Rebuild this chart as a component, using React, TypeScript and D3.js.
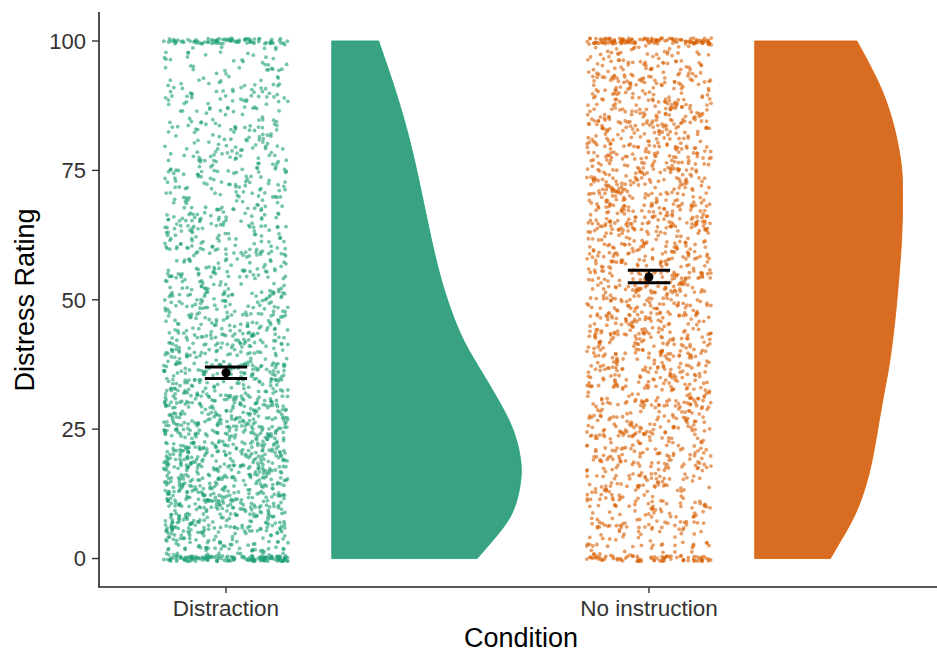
import React from "react";
import * as d3 from "d3";

const width = 937;
const height = 653;

const conditions = ["Distraction", "No instruction"];
const colors = ["#1B9E77", "#D95F02"];
const fills = ["#38a282", "#d96c23"];

// summary: mean and standard-error bounds
const meanRatings = [35.9, 54.4];
const lowerRatings = [34.8, 53.3];
const upperRatings = [37.0, 55.7];

// half-violin outline
const distractionDensityAt = [0, 4.5, 8.7, 15, 19, 25, 31, 37.5, 43, 50, 55.5, 62.5, 72.7, 81, 90, 100];
const distractionDensity = [0.0121, 0.0138, 0.0152, 0.0158, 0.0158, 0.0152, 0.0138, 0.0121, 0.0107, 0.0096, 0.0089, 0.0082, 0.0073, 0.0065, 0.0054, 0.0039];
const noInstructionDensityAt = [0, 4, 8.7, 16.3, 24.5, 31.3, 38.3, 48.6, 62.5, 70.7, 76, 85, 92, 100];
const noInstructionDensity = [0.0063, 0.0073, 0.0085, 0.0096, 0.0102, 0.0107, 0.0113, 0.0118, 0.0123, 0.0123, 0.0123, 0.0115, 0.0104, 0.0085];

// raw points, counted per 5-point bin (0-5 ... 95-100), plus the piles at exactly 0 and 100
const distractionBins = [95, 145, 155, 158, 152, 142, 128, 112, 98, 88, 80, 75, 70, 66, 62, 58, 54, 48, 42, 32];
const distractionEnds = [130, 80];
const noInstructionBins = [48, 70, 78, 84, 88, 91, 94, 97, 100, 102, 104, 106, 107, 107, 107, 106, 102, 96, 88, 62];
const noInstructionEnds = [70, 120];

const yTicks = [0, 25, 50, 75, 100];

const densityAt = [distractionDensityAt, noInstructionDensityAt];
const densityVals = [distractionDensity, noInstructionDensity];
const bins = [distractionBins, noInstructionBins];
const ends = [distractionEnds, noInstructionEnds];

const x = d3.scaleLinear().domain([0.6998, 2.681]).range([99, 937]);
const y = d3.scaleLinear().domain([-5.5, 105.6]).range([587, 12]);
const w = d3.scaleLinear().domain([0, 0.0158]).range([0, 0.449]);

// fixed hash, stands in for geom_jitter's offsets so the picture is stable
const jit = (n: number) => {
  let t = Math.imul(n ^ (n >>> 16), 0x45d9f3b);
  t = Math.imul(t ^ (t >>> 16), 0x45d9f3b);
  t ^= t >>> 16;
  return (t >>> 0) / 4294967296;
};

function jitterPoints(g: number) {
  const pts: { x: number; y: number }[] = [];
  const pos = g + 1;
  let j = g * 100003 + 17;
  bins[g].forEach((n, i) => {
    for (let k = 0; k < n; k++) {
      j++;
      pts.push({ x: pos + (jit(2 * j) * 2 - 1) * 0.147, y: i * 5 + jit(2 * j + 1) * 5 });
    }
  });
  ends[g].forEach((n, e) => {
    for (let k = 0; k < n; k++) {
      j++;
      pts.push({ x: pos + (jit(2 * j) * 2 - 1) * 0.147, y: e * 100 + (jit(2 * j + 1) - 0.5) * 1.1 });
    }
  });
  return pts;
}

export default function App() {
  const font = "'Liberation Sans', Arial, sans-serif";

  return (
    <svg
      width={width}
      height={height}
      style={{ position: "absolute", left: 0, top: 0, display: "block", background: "#fff" }}
    >
      {conditions.map((c, g) => {
        const pos = g + 1;
        const left = pos + 0.25;
        const pairs = densityAt[g].map((r, i) => [r, densityVals[g][i]] as [number, number]);
        const area = d3
          .area<[number, number]>()
          .y((d) => y(d[0]))
          .x0(x(left))
          .x1((d) => x(left + w(d[1])))
          .curve(d3.curveBasis);
        return (
          <g key={c}>
            {jitterPoints(g).map((p, i) => (
              <circle key={i} cx={x(p.x)} cy={y(p.y)} r={1.9} fill={colors[g]} fillOpacity={0.6} />
            ))}
            <path d={area(pairs) ?? ""} fill={fills[g]} stroke={colors[g]} strokeWidth={0.8} />
            <line x1={x(pos)} x2={x(pos)} y1={y(lowerRatings[g])} y2={y(upperRatings[g])} stroke="#000" strokeWidth={2} />
            {[lowerRatings[g], upperRatings[g]].map((v, i) => (
              <line key={i} x1={x(pos - 0.05)} x2={x(pos + 0.05)} y1={y(v)} y2={y(v)} stroke="#000" strokeWidth={3} />
            ))}
            <circle cx={x(pos)} cy={y(meanRatings[g])} r={4.5} fill="#000" />
          </g>
        );
      })}

      {/* y axis */}
      <line x1={99} x2={99} y1={12} y2={587} stroke="#222" strokeWidth={1.6} />
      {yTicks.map((t) => (
        <g key={t}>
          <line x1={92} x2={99} y1={y(t)} y2={y(t)} stroke="#333" strokeWidth={1.4} />
          <text x={86} y={y(t)} dy="0.36em" textAnchor="end" fontSize={22} fill="#333" fontFamily={font}>
            {t}
          </text>
        </g>
      ))}
      {/* x axis */}
      <line x1={98.2} x2={937} y1={587} y2={587} stroke="#222" strokeWidth={1.6} />
      {conditions.map((c, g) => (
        <g key={c}>
          <line x1={x(g + 1)} x2={x(g + 1)} y1={587} y2={593} stroke="#333" strokeWidth={1.4} />
          <text x={x(g + 1)} y={616} textAnchor="middle" fontSize={22.5} fill="#333" fontFamily={font}>
            {c}
          </text>
        </g>
      ))}
      <text x={521} y={647} textAnchor="middle" fontSize={27} fill="#000" fontFamily={font}>
        Condition
      </text>
      <text transform="translate(34,300) rotate(-90)" textAnchor="middle" fontSize={27} fill="#000" fontFamily={font}>
        Distress Rating
      </text>
    </svg>
  );
}
